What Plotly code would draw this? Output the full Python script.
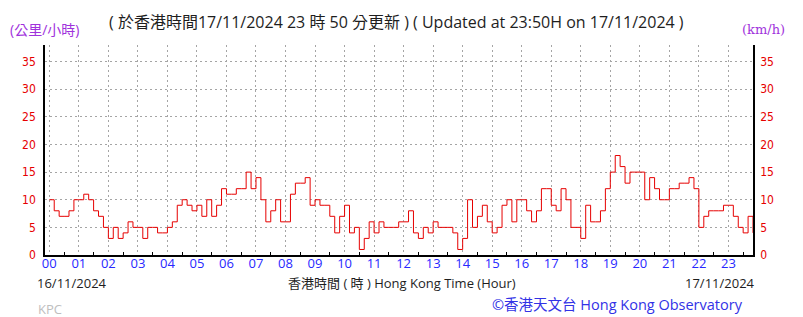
import plotly.graph_objects as go

# 10-minute wind speed (km/h), 00:00 to 23:50, 16-17/11/2024
speed = [
    10, 8, 7, 7, 8, 10, 10, 11, 10, 8, 7, 5,
    3, 5, 3, 4, 6, 5, 5, 3, 5, 5, 4, 4,
    5, 6, 9, 10, 9, 8, 9, 7, 10, 7, 9, 12,
    11, 11, 12, 12, 15, 12, 14, 10, 6, 8, 10, 6,
    6, 11, 13, 13, 14, 9, 10, 9, 9, 7, 4, 7,
    9, 4, 5, 1, 3, 6, 4, 6, 5, 5, 5, 6,
    6, 8, 4, 3, 5, 4, 6, 5, 5, 5, 4, 1,
    3, 10, 5, 7, 9, 6, 4, 5, 9, 10, 6, 10,
    10, 8, 6, 8, 12, 12, 9, 8, 12, 10, 5, 5,
    3, 9, 6, 6, 8, 12, 15, 18, 16, 13, 15, 15,
    15, 10, 14, 12, 10, 10, 12, 12, 13, 13, 14, 12,
    5, 7, 8, 8, 8, 9, 9, 7, 5, 4, 7, 4,
]
hours = [i / 6 for i in range(len(speed))]
hour_ticks = list(range(24))
hour_labels = [f"{h:02d}" for h in hour_ticks]
y_ticks = [0, 5, 10, 15, 20, 25, 30, 35]

W, H = 803, 317
L, R, T, B = 45, 50, 45, 62
pw, ph = W - L - R, H - T - B


def px(x):
    return (x - L) / pw


def py(y):
    return (H - B - y) / ph


RED = "rgb(230,0,0)"
BLUE = "rgb(40,40,255)"
PURPLE = "rgb(160,50,220)"
GRID = "rgb(165,165,165)"
FONT = "Open Sans, Noto Sans CJK TC, sans-serif"
NUMFONT = "DejaVu Sans Condensed, Liberation Sans, sans-serif"

fig = go.Figure()
fig.add_trace(go.Scatter(
    x=hours, y=speed, mode="lines", line=dict(color=RED, width=1, shape="hv"),
    hoverinfo="skip", showlegend=False,
))
fig.add_trace(go.Scatter(
    x=hours, y=speed, yaxis="y2", mode="lines", line=dict(width=0),
    hoverinfo="skip", showlegend=False, opacity=0,
))

fig.update_layout(
    width=W, height=H, margin=dict(l=L, r=R, t=T, b=B, pad=0),
    paper_bgcolor="white", plot_bgcolor="white",
    xaxis=dict(
        range=[-0.146, 23.833], tickvals=hour_ticks, ticktext=hour_labels,
        showgrid=True, gridcolor=GRID, griddash="2px,3px", gridwidth=1,
        showline=True, linecolor="black", linewidth=1.5, mirror=False,
        ticks="", tickfont=dict(family=FONT, size=13, color=BLUE),
        zeroline=False, ticklabelstandoff=-4,
        minor=dict(ticks="inside", ticklen=3, tickcolor="black", tick0=0.5, dtick=1, showgrid=False),
    ),
    yaxis=dict(
        range=[0, 38], tickvals=y_ticks, showgrid=True,
        gridcolor=GRID, griddash="2px,3px", gridwidth=1,
        showline=True, linecolor="black", linewidth=1.5, ticks="",
        tickfont=dict(family=NUMFONT, size=12, color=RED),
        zeroline=False, ticklabelstandoff=5,
    ),
    yaxis2=dict(
        range=[0, 38], tickvals=y_ticks, overlaying="y", side="right",
        showgrid=False, showline=True, linecolor="black", linewidth=1.5, ticks="",
        tickfont=dict(family=NUMFONT, size=12, color=RED),
        zeroline=False, ticklabelstandoff=3,
    ),
)

anns = [
    dict(text="( 於香港時間17/11/2024 23 時 50 分更新 ) ( Updated at 23:50H on 17/11/2024 )",
         x=px(396), y=py(22), size=16, color="rgb(30,30,30)", xanchor="center", family=FONT),
    dict(text="(公里/小時)", x=px(8), y=py(29), size=14, color=PURPLE, xanchor="left", family=FONT),
    dict(text="(km/h)", x=px(787), y=py(29), size=13, color=PURPLE, xanchor="right",
         family="DejaVu Serif, Liberation Serif, serif"),
    dict(text="16/11/2024", x=px(35), y=py(283), size=13, color="rgb(30,30,30)", xanchor="left", family=FONT),
    dict(text="香港時間 ( 時 ) Hong Kong Time (Hour)", x=px(402), y=py(283), size=13,
         color="rgb(30,30,30)", xanchor="center", family=FONT),
    dict(text="17/11/2024", x=px(757), y=py(283), size=13, color="rgb(30,30,30)", xanchor="right", family=FONT),
    dict(text="©香港天文台 Hong Kong Observatory", x=px(745), y=py(304), size=14.5, color="rgb(50,50,230)",
         xanchor="right", family=FONT),
    dict(text="KPC", x=px(36), y=py(309), size=13, color="rgb(190,190,190)", xanchor="left", family=FONT),
]
for a in anns:
    fig.add_annotation(
        text=a["text"], x=a["x"], y=a["y"], xref="paper", yref="paper",
        xanchor=a["xanchor"], yanchor="middle", showarrow=False,
        font=dict(family=a["family"], size=a["size"], color=a["color"]),
    )

fig.write_html("out.html")
